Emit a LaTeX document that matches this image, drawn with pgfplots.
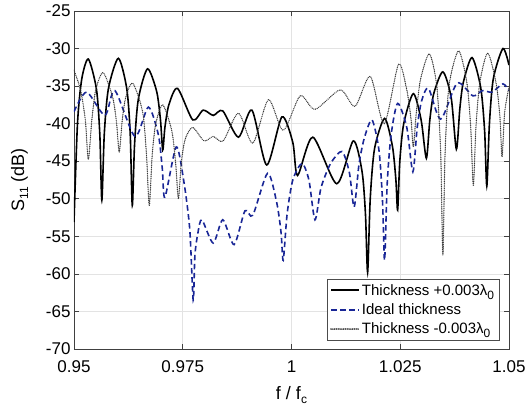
\documentclass[border=0pt]{standalone}
\usepackage{fontspec}
\setmainfont{Liberation Sans}
\usepackage{pgfplots}
\pgfplotsset{compat=1.18}

\definecolor{idealblue}{RGB}{25,38,150}
\definecolor{thingray}{RGB}{55,55,55}
% lowered subscript, as in the original figure
\newcommand{\lsub}[1]{\raisebox{-4pt}{\fontsize{12}{12}\selectfont #1}}

\begin{document}
\begin{tikzpicture}
\begin{axis}[
    scale only axis,
    width=435pt, height=338pt,
    xmin=0.95, xmax=1.05,
    ymin=-70, ymax=-25,
    xtick={0.95,0.975,1,1.025,1.05},
    ytick={-70,-65,...,-25},
    xticklabel style={/pgf/number format/precision=3, yshift=-8pt},
    /pgf/number format/assume math mode=true,
    tick label style={font=\fontsize{17}{20}\selectfont},
    label style={font=\fontsize{18}{21}\selectfont},
    xlabel={f / f\lsub{c}},
    ylabel={S\lsub{11} (dB)},
    xlabel style={yshift=-7pt},
    ylabel style={yshift=11pt},
    tick align=inside,
    major tick length=5pt,
    xmajorgrids, ymajorgrids,
    grid style={gray!22, line width=0.6pt},
    axis line style={black!75, line width=0.8pt},
    every tick/.style={black!75, line width=0.6pt},
    legend style={at={(0.978,0.025)}, anchor=south east,
        font=\fontsize{15}{18}\selectfont, draw=black!70, line width=0.6pt,
        inner sep=3pt, row sep=3pt},
    legend cell align=left,
    legend image code/.code={\draw[#1, line width=1.8pt] plot coordinates {(0pt,0pt) (14pt,0pt) (28pt,0pt)};},
    smooth, tension=0.45,
]
% Thickness +0.003 lambda_0
\addplot[black, line width=1.6pt] coordinates {
(0.9500,-53.1) (0.9508,-40.0) (0.9518,-34.0) (0.9533,-31.4)
(0.95516,-35.4) (0.95594,-41.5) (0.9564,-50.2)
(0.95697,-41.3) (0.95792,-35.3) (0.9602,-31.3)
(0.96212,-35.3) (0.96292,-41.3) (0.9634,-50.9)
(0.96393,-42.7) (0.96480,-36.7) (0.9669,-32.7)
(0.9690,-35.7) (0.96988,-39.5) (0.9704,-43.5)
(0.9709,-40.5) (0.9718,-37.5) (0.9738,-35.3)
(0.9773,-39.5) (0.9797,-38.2) (0.9820,-38.9) (0.9842,-38.3)
(0.9878,-41.8) (0.9909,-38.2) (0.9943,-45.5) (0.9978,-39.1)
(1.0003,-42.5) (1.0014,-46.9) (1.0049,-41.8) (1.0104,-48.0)
(1.0142,-42.3) (1.0162,-46.3) (1.0170,-52.0) (1.0175,-59.8)
(1.0181,-50.0) (1.0191,-43.3) (1.0214,-39.3)
(1.0232,-43.0) (1.0240,-47.5) (1.0244,-51.5)
(1.0249,-45.0) (1.0258,-40.0) (1.0280,-36.0)
(1.0298,-39.5) (1.0310,-44.6)
(1.0318,-39.5) (1.0327,-36.0) (1.0348,-33.1)
(1.0367,-36.5) (1.0379,-43.4)
(1.0387,-38.0) (1.0395,-34.5) (1.0415,-31.2)
(1.0435,-35.2) (1.0444,-41.0) (1.0449,-48.3)
(1.0455,-40.0) (1.0464,-34.0) (1.0486,-30.0) (1.0500,-32.2)
};
\addlegendentry{Thickness +0.003λ\lsub{0}}
% Ideal thickness
\addplot[idealblue, line width=1.6pt, dash pattern=on 5.5pt off 3.5pt] coordinates {
(0.9500,-38.4) (0.9529,-35.8) (0.9571,-38.9) (0.9594,-35.6)
(0.9640,-41.7) (0.9671,-37.8) (0.9694,-41.5) (0.9703,-46.0) (0.9709,-49.8)
(0.9735,-43.1) (0.9752,-47.5) (0.9766,-54.0) (0.9774,-63.5)
(0.9778,-57.5) (0.9785,-54.5) (0.9794,-52.8)
(0.9820,-55.9) (0.9842,-52.8) (0.9868,-56.1) (0.9893,-51.6)
(0.9911,-52.2) (0.9945,-46.6) (0.9966,-50.5) (0.9976,-54.5) (0.9981,-58.2)
(0.9990,-52.0) (1.0003,-47.5) (1.0024,-45.3)
(1.0040,-47.5) (1.0054,-52.8) (1.0068,-48.5) (1.0090,-45.3) (1.0116,-43.7)
(1.0133,-46.5) (1.0144,-51.1) (1.0155,-45.5) (1.0167,-42.0) (1.0185,-39.5)
(1.0201,-43.5) (1.0209,-50.0) (1.0214,-58.2)
(1.0220,-48.0) (1.0229,-41.5) (1.0244,-37.3)
(1.0265,-40.5) (1.0279,-46.4) (1.0289,-40.5) (1.0299,-37.0) (1.0315,-35.3)
(1.0343,-39.4) (1.0381,-34.6) (1.0417,-36.3) (1.0439,-35.6)
(1.0461,-35.8) (1.0486,-34.7) (1.0500,-35.6)
};
\addlegendentry{Ideal thickness}
% Thickness -0.003 lambda_0
\addplot[thingray, line width=1.4pt, line cap=round, dash pattern=on 0pt off 1.8pt] coordinates {
(0.9500,-32.9) (0.9515,-35.5) (0.9526,-39.5) (0.9533,-44.8)
(0.9541,-39.5) (0.9550,-35.5) (0.9567,-33.2)
(0.9589,-36.5) (0.9598,-40.0) (0.9604,-43.8)
(0.9611,-39.5) (0.9619,-36.5) (0.9635,-34.6)
(0.9658,-38.5) (0.9667,-44.5) (0.9673,-50.9)
(0.9680,-44.0) (0.9688,-40.0) (0.9704,-37.5)
(0.9725,-41.0) (0.9734,-45.5) (0.9740,-50.0)
(0.9747,-45.0) (0.9756,-42.0) (0.9773,-40.5)
(0.9799,-42.3) (0.9820,-41.7) (0.9843,-42.3) (0.9878,-38.6)
(0.9911,-42.6) (0.9947,-36.8) (0.9981,-40.9) (1.0020,-36.3)
(1.0054,-38.1) (1.0112,-35.5) (1.0146,-37.7) (1.0181,-33.7)
(1.0213,-40.0) (1.0246,-32.1)
(1.0265,-35.5) (1.0275,-39.5) (1.0280,-43.1)
(1.0287,-38.5) (1.0297,-34.0) (1.0317,-30.7)
(1.0334,-35.0) (1.0343,-44.0) (1.0348,-57.5)
(1.0353,-44.0) (1.0362,-35.0) (1.0384,-30.3)
(1.0403,-34.5) (1.0412,-40.5) (1.0418,-48.3)
(1.0424,-40.5) (1.0433,-34.5) (1.0451,-30.6)
(1.0470,-34.5) (1.0479,-39.0) (1.0484,-44.4)
(1.0490,-38.5) (1.0500,-35.1)
};
\addlegendentry{Thickness -0.003λ\lsub{0}}
\end{axis}
\pgfresetboundingbox
\path ([shift={(-74pt,-66pt)}]current axis.south west) rectangle ([shift={(19pt,11pt)}]current axis.north east);
\end{tikzpicture}
\end{document}
